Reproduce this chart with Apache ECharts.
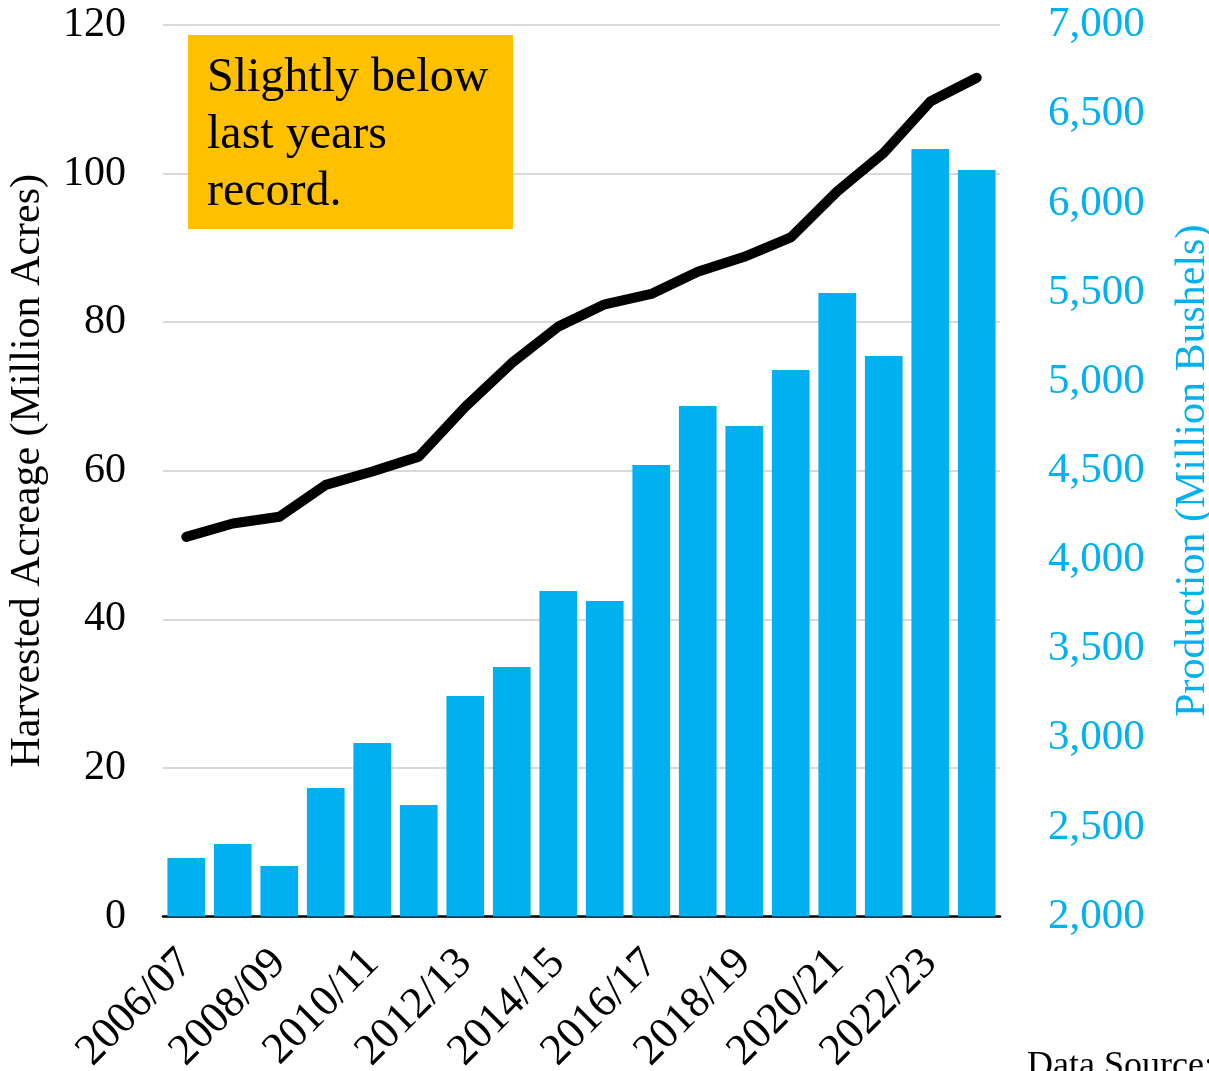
<!DOCTYPE html>
<html>
<head>
<meta charset="utf-8">
<script src="https://cdn.jsdelivr.net/npm/echarts@6/dist/echarts.min.js"></script>
<style>
  html, body { margin: 0; padding: 0; background: #fff; }
  #chart { width: 1209px; height: 1071px; }
</style>
</head>
<body>
<div id="chart"></div>
<script>
// Marketing years
const years = [
  '2006/07', '2007/08', '2008/09', '2009/10', '2010/11', '2011/12',
  '2012/13', '2013/14', '2014/15', '2015/16', '2016/17', '2017/18',
  '2018/19', '2019/20', '2020/21', '2021/22', '2022/23', '2023/24'
];

// Production, million bushels (right axis)
const production = [
  2328, 2407, 2283, 2721, 2973, 2625,
  3237, 3399, 3826, 3770, 4532, 4863,
  4751, 5065, 5497, 5144, 6305, 6187
];

// Harvested acreage, million acres (left axis)
const acreage = [
  51.1, 52.9, 53.8, 58.1, 59.9, 61.9,
  68.6, 74.5, 79.4, 82.4, 83.8, 86.8,
  88.8, 91.4, 97.6, 102.8, 109.7, 112.9
];

const leftTicks = { min: 0, max: 120, interval: 20 };
const rightTicks = { min: 2000, max: 7000, interval: 500 };

const SERIF = '"Liberation Serif", "DejaVu Serif", serif';
const BLUE = '#00B0F0';

const chart = echarts.init(document.getElementById('chart'));

chart.setOption({
  backgroundColor: '#ffffff',
  animation: false,
  textStyle: { fontFamily: SERIF },
  grid: {
    left: 163, right: 209, top: 25, bottom: 154.5,
    containLabel: false,
    outerBoundsMode: 'none'
  },
  xAxis: {
    type: 'category',
    data: years,
    axisLine: { lineStyle: { color: '#000', width: 2.5 } },
    axisTick: { show: false },
    axisLabel: {
      // every other marketing year
      interval: 1,
      rotate: 45,
      margin: 40,
      color: '#000',
      fontFamily: SERIF,
      fontSize: 44
    }
  },
  yAxis: [
    {
      type: 'value',
      min: leftTicks.min,
      max: leftTicks.max,
      interval: leftTicks.interval,
      name: 'Harvested Acreage (Million Acres)',
      nameLocation: 'middle',
      nameGap: 114,
      nameTextStyle: { color: '#000', fontFamily: SERIF, fontSize: 42 },
      axisLine: { show: false },
      axisTick: { show: false },
      axisLabel: { color: '#000', fontFamily: SERIF, fontSize: 42, margin: 37 },
      splitLine: { lineStyle: { color: '#d9d9d9', width: 2 } }
    },
    {
      type: 'value',
      position: 'right',
      min: rightTicks.min,
      max: rightTicks.max,
      interval: rightTicks.interval,
      name: 'Production (Million Bushels)',
      nameLocation: 'middle',
      nameGap: 172,
      nameRotate: 90,
      nameTextStyle: { color: BLUE, fontFamily: SERIF, fontSize: 42 },
      axisLine: { show: false },
      axisTick: { show: false },
      axisLabel: {
        color: BLUE,
        fontFamily: SERIF,
        fontSize: 43,
        margin: 48,
        formatter: v => v.toLocaleString('en-US')
      },
      splitLine: { show: false }
    }
  ],
  series: [
    {
      name: 'Production',
      type: 'bar',
      yAxisIndex: 1,
      data: production,
      barCategoryGap: '19%',
      itemStyle: { color: BLUE },
      z: 2
    },
    {
      name: 'Harvested Acreage',
      type: 'line',
      yAxisIndex: 0,
      data: acreage,
      showSymbol: false,
      symbol: 'none',
      lineStyle: { color: '#000', width: 10, cap: 'round', join: 'round' },
      z: 3
    }
  ],
  graphic: [
    {
      type: 'rect',
      left: 188,
      top: 35,
      shape: { width: 325, height: 194 },
      style: { fill: '#FFC000' },
      z: 10
    },
    {
      type: 'text',
      left: 207,
      top: 50,
      style: {
        text: 'Slightly below\nlast years\nrecord.',
        fill: '#000',
        font: '48px ' + SERIF,
        lineHeight: 57
      },
      z: 11
    },
    {
      type: 'text',
      left: 1027,
      top: 1049,
      style: {
        text: 'Data Source: USDA',
        fill: '#000',
        font: '36px ' + SERIF
      },
      z: 11
    }
  ]
});
</script>
</body>
</html>
